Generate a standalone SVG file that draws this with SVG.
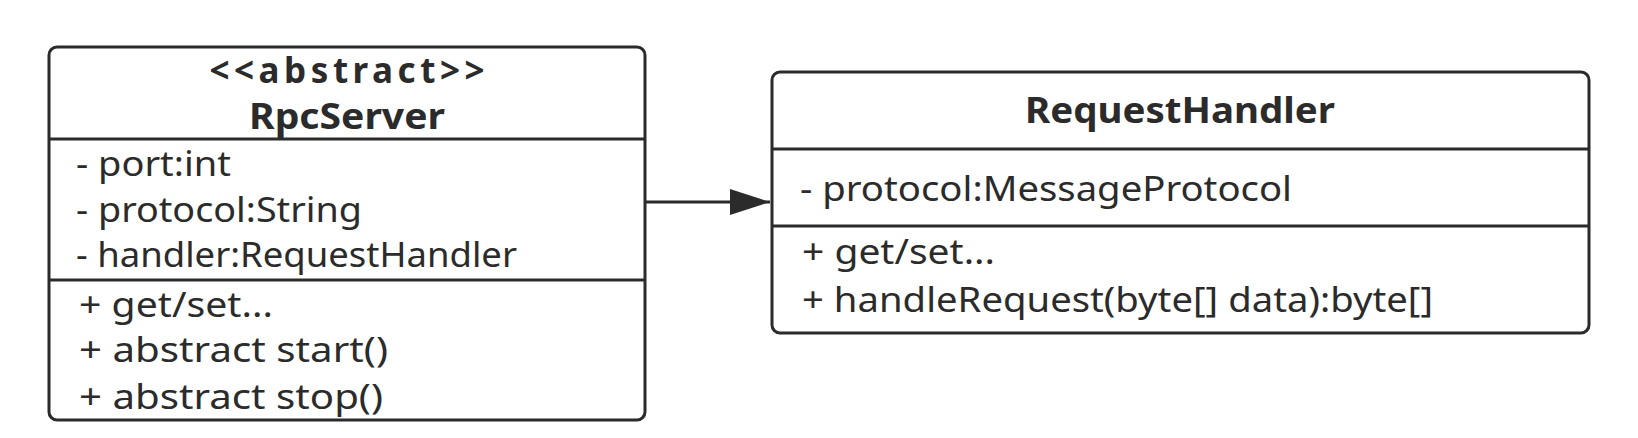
<svg xmlns="http://www.w3.org/2000/svg" width="1638" height="438" viewBox="0 0 1638 438">
<style>
.box{fill:#fff;stroke:#2b2b2b;stroke-width:3}
.div{stroke:#2b2b2b;stroke-width:3}
.t{font-family:"Noto Sans","Open Sans",sans-serif;font-size:35px;fill:#2b2b2b}
.b{font-weight:bold;text-anchor:middle}
.edge{stroke:#2b2b2b;stroke-width:3;fill:none}
</style>
<rect width="1638" height="438" fill="#fff"/>
<g id="RpcServer">
<rect class="box" x="49" y="47" width="596" height="373" rx="8"/>
<line class="div" x1="49" y1="139" x2="645" y2="139"/>
<line class="div" x1="49" y1="280" x2="645" y2="280"/>
<text class="t b" x="347" y="83" textLength="275" lengthAdjust="spacing">&lt;&lt;abstract&gt;&gt;</text>
<text class="t b" x="347" y="129" textLength="196" lengthAdjust="spacingAndGlyphs">RpcServer</text>
<text class="t" x="76" y="176" textLength="155" lengthAdjust="spacingAndGlyphs">- port:int</text>
<text class="t" x="76" y="222" textLength="286" lengthAdjust="spacingAndGlyphs">- protocol:String</text>
<text class="t" x="76" y="267" textLength="441" lengthAdjust="spacingAndGlyphs">- handler:RequestHandler</text>
<text class="t" x="79" y="317" textLength="194" lengthAdjust="spacingAndGlyphs">+ get/set...</text>
<text class="t" x="79" y="362" textLength="309" lengthAdjust="spacingAndGlyphs">+ abstract start()</text>
<text class="t" x="79" y="409" textLength="304" lengthAdjust="spacingAndGlyphs">+ abstract stop()</text>
</g>
<g id="RequestHandler">
<rect class="box" x="772" y="72" width="817" height="261" rx="8"/>
<line class="div" x1="772" y1="149" x2="1589" y2="149"/>
<line class="div" x1="772" y1="226" x2="1589" y2="226"/>
<text class="t b" x="1180" y="123" textLength="310" lengthAdjust="spacingAndGlyphs">RequestHandler</text>
<text class="t" x="800" y="201" textLength="492" lengthAdjust="spacingAndGlyphs">- protocol:MessageProtocol</text>
<text class="t" x="802" y="264" textLength="193" lengthAdjust="spacingAndGlyphs">+ get/set...</text>
<text class="t" x="802" y="312" textLength="631" lengthAdjust="spacingAndGlyphs">+ handleRequest(byte[] data):byte[]</text>
</g>
<g id="connectors">
<path d="M645,202 L770,202" class="edge"/>
<path d="M730,189 L770,202 L730,215 Z" fill="#2b2b2b"/>
</g>
</svg>
